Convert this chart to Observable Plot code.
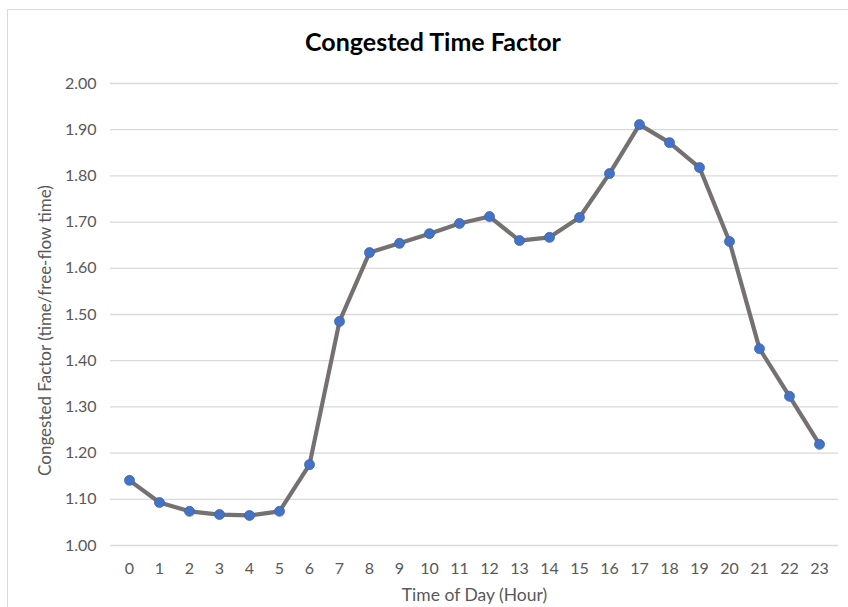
<!DOCTYPE html>
<html>
<head>
<meta charset="utf-8">
<script src="https://cdn.jsdelivr.net/npm/d3@7"></script>
<script src="https://cdn.jsdelivr.net/npm/@observablehq/plot@0.6"></script>
<style>
  html, body { margin: 0; padding: 0; background: #fff; overflow: hidden; }
  #wrap { position: relative; width: 848px; height: 607px; }
  #border { position: absolute; left: 7px; top: 9px; width: 900px; height: 700px; border: 1px solid #d9d9d9; box-sizing: border-box; }
  #title { position: absolute; left: 0; top: 26px; width: 866px; line-height: 30px; text-align: center; font-family: Lato, "Open Sans", sans-serif; font-weight: bold; font-size: 25px; color: #000; }
  #chart { position: absolute; left: 0; top: 0; }
</style>
</head>
<body>
<div id="wrap">
  <div id="border"></div>
  <div id="chart"></div>
  <div id="title">Congested Time Factor</div>
</div>
<script>
const hours = [0,1,2,3,4,5,6,7,8,9,10,11,12,13,14,15,16,17,18,19,20,21,22,23];
const factors = [1.141,1.093,1.074,1.067,1.065,1.074,1.175,1.485,1.634,1.654,1.675,1.697,1.712,1.660,1.667,1.710,1.805,1.911,1.872,1.818,1.658,1.426,1.323,1.219];
const yTicks = [1.0,1.1,1.2,1.3,1.4,1.5,1.6,1.7,1.8,1.9,2.0];
const xLabel = "Time of Day (Hour)";
const yLabel = "Congested Factor (time/free-flow time)";

const data = hours.map((h, i) => ({hour: h, factor: factors[i]}));

const chart = Plot.plot({
  width: 848,
  height: 607,
  marginLeft: 110,
  marginRight: 10,
  marginTop: 83,
  marginBottom: 62,
  style: {fontFamily: "Lato, 'Open Sans', sans-serif", fontSize: "16px", color: "#595959", background: "transparent"},
  x: {type: "band", domain: hours, padding: 0, label: null},
  y: {domain: [1.0, 2.0], label: null},
  marks: [
    Plot.gridY(yTicks, {stroke: "#d9d9d9", strokeOpacity: 1, strokeWidth: 1.3}),
    Plot.axisX({tickSize: 0, tickPadding: 17, fontSize: 16, fill: "#595959"}),
    Plot.axisY(yTicks, {tickSize: 0, tickPadding: 14, tickFormat: d3.format(".2f"), fontSize: 16, fill: "#595959"}),
    Plot.line(data, {x: "hour", y: "factor", stroke: "#767171", strokeWidth: 4.2, strokeLinejoin: "round"}),
    Plot.dot(data, {x: "hour", y: "factor", r: 5, fill: "#4472C4", stroke: "#3d66b0", strokeWidth: 0.8}),
    Plot.text([xLabel], {frameAnchor: "bottom", dy: 55, fontSize: 17.5, fill: "#595959"}),
    Plot.text([yLabel], {frameAnchor: "left", textAnchor: "middle", dx: -65, dy: 16, rotate: -90, fontSize: 17, fill: "#595959"})
  ]
});
document.getElementById("chart").appendChild(chart);
</script>
</body>
</html>
